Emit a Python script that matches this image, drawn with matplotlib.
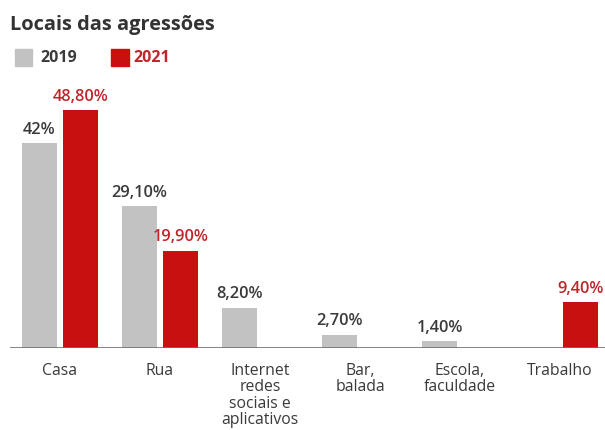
import matplotlib.pyplot as plt
import numpy as np

plt.rcParams["font.family"] = ["Open Sans", "DejaVu Sans"]

# data
categories = ["Casa", "Rua", "Internet\nredes\nsociais e\naplicativos",
              "Bar,\nbalada", "Escola,\nfaculdade", "Trabalho"]
vals_2019 = [42.0, 29.1, 8.2, 2.7, 1.4, 0.0]
vals_2021 = [48.8, 19.9, 0.0, 0.0, 0.0, 9.4]
labels_2019 = ["42%", "29,10%", "8,20%", "2,70%", "1,40%", ""]
labels_2021 = ["48,80%", "19,90%", "", "", "", "9,40%"]

GRAY = "#c2c2c2"
RED = "#c8100f"
TXT = "#3a3a3a"
RED_TXT = "#c0252a"

fig = plt.figure(figsize=(6.05, 4.30), dpi=100)
ax = fig.add_axes([10 / 605, 82 / 430, 595 / 605, 268 / 430])

x = np.arange(len(categories))
w = 0.35
off = 0.205

for i in range(len(categories)):
    if vals_2019[i] > 0:
        ax.bar(x[i] - off, vals_2019[i], w, color=GRAY)
    if vals_2021[i] > 0:
        ax.bar(x[i] + off, vals_2021[i], w, color=RED)
    if labels_2019[i]:
        ax.annotate(labels_2019[i], (x[i] - off, vals_2019[i]), xytext=(0, 4),
                    textcoords="offset points", ha="center", va="bottom",
                    fontsize=11.8, fontweight="semibold", color=TXT)
    if labels_2021[i]:
        ax.annotate(labels_2021[i], (x[i] + off, vals_2021[i]), xytext=(0, 4),
                    textcoords="offset points", ha="center", va="bottom",
                    fontsize=11.8, fontweight="semibold", color=RED_TXT)
    ax.text(x[i], -3.0, categories[i], ha="center", va="top", fontsize=11.3,
            color=TXT, linespacing=1.05)

ax.set_xlim(-0.5, 5.45)
ax.set_ylim(0, 55)
ax.axhline(0, color="#707070", lw=1.2)
ax.axis("off")

# title and legend
fig.text(10 / 605, 1 - 25 / 430, "Locais das agressões", fontsize=14.4,
         fontweight="bold", color="#333333", va="center", ha="left")
fig.patches.append(plt.Rectangle((15 / 605, 1 - 66 / 430), 17 / 605, 17 / 430,
                                 transform=fig.transFigure, color=GRAY))
fig.text(40 / 605, 1 - 58 / 430, "2019", fontsize=11.5, fontweight="bold",
         color=TXT, va="center", ha="left")
fig.patches.append(plt.Rectangle((111 / 605, 1 - 66 / 430), 18 / 605, 17 / 430,
                                 transform=fig.transFigure, color=RED))
fig.text(133 / 605, 1 - 58 / 430, "2021", fontsize=11.5, fontweight="bold",
         color=RED_TXT, va="center", ha="left")

fig.savefig("out.png", dpi=100, facecolor="white")
